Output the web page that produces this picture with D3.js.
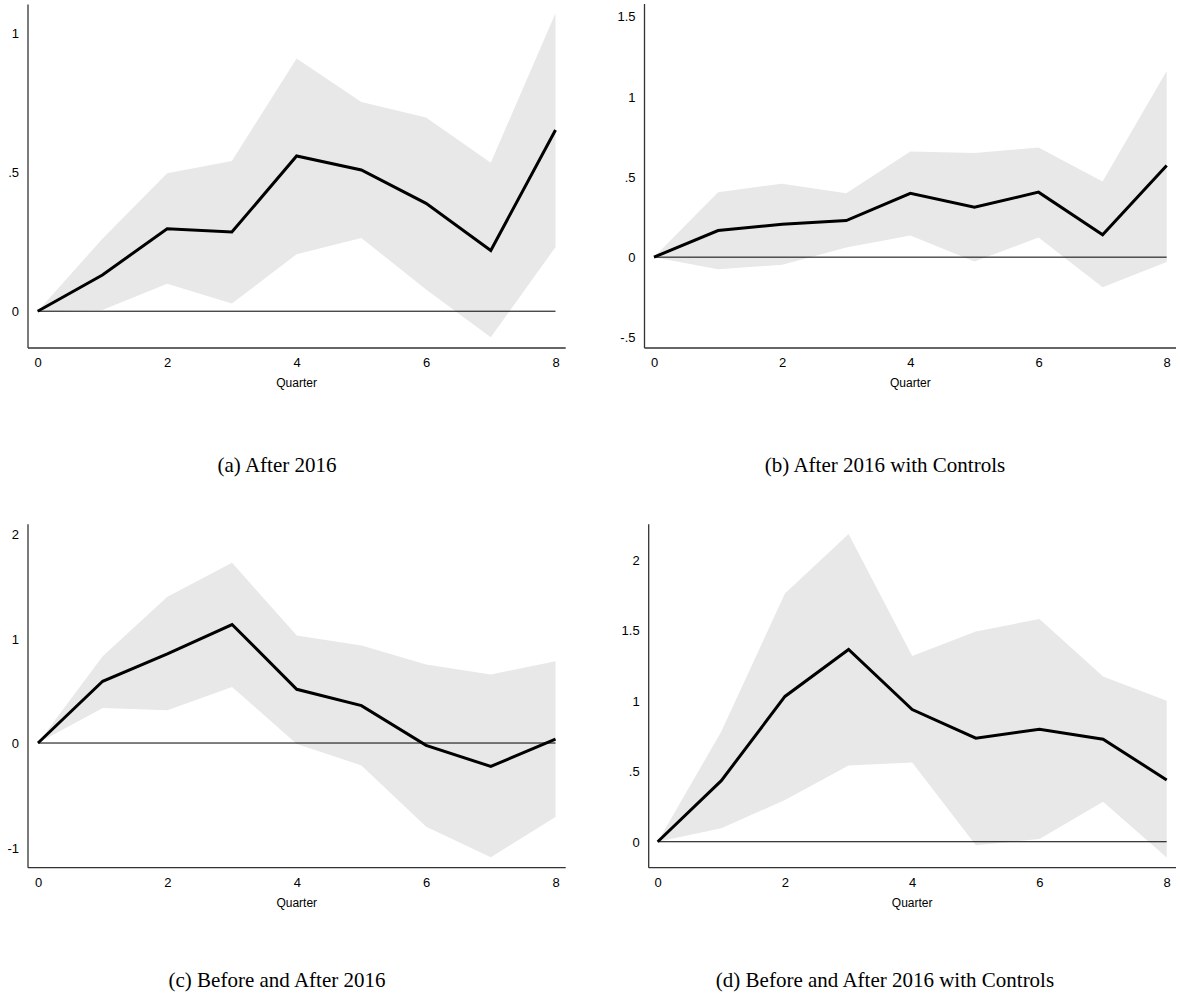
<!DOCTYPE html>
<html>
<head>
<meta charset="utf-8">
<script src="https://cdn.jsdelivr.net/npm/d3@7"></script>
<style>
  html, body { margin: 0; padding: 0; background: #fff; }
  svg { display: block; }
  .tick-label { font-family: "Liberation Sans", Arial, sans-serif; font-size: 13px; fill: #000; }
  .caption { font-family: "Liberation Serif", "DejaVu Serif", serif; font-size: 21px; fill: #000; }
</style>
</head>
<body>
<svg id="chart" width="1180" height="997"></svg>
<script>
// Impulse responses by quarter, with confidence bands
const quarters = [0, 1, 2, 3, 4, 5, 6, 7, 8];

const estA  = [0, 0.130, 0.296, 0.284, 0.557, 0.507, 0.387, 0.218, 0.650];
const upperA = [0, 0.260, 0.495, 0.539, 0.907, 0.751, 0.695, 0.533, 1.069];
const lowerA = [0, 0.004, 0.099, 0.028, 0.204, 0.263, 0.078, -0.093, 0.230];

const estB  = [0, 0.166, 0.205, 0.228, 0.398, 0.311, 0.405, 0.139, 0.571];
const upperB = [0, 0.405, 0.458, 0.398, 0.658, 0.649, 0.683, 0.471, 1.160];
const lowerB = [0, -0.075, -0.048, 0.060, 0.135, -0.027, 0.122, -0.187, -0.031];

const estC  = [0, 0.591, 0.853, 1.134, 0.514, 0.358, -0.022, -0.224, 0.038];
const upperC = [0, 0.830, 1.400, 1.725, 1.030, 0.933, 0.751, 0.655, 0.783];
const lowerC = [0, 0.335, 0.313, 0.537, -0.010, -0.214, -0.800, -1.093, -0.709];

const estD  = [0, 0.433, 1.030, 1.363, 0.937, 0.734, 0.798, 0.727, 0.438];
const upperD = [0, 0.781, 1.759, 2.182, 1.316, 1.491, 1.579, 1.172, 0.999];
const lowerD = [0, 0.095, 0.296, 0.540, 0.561, -0.024, 0.019, 0.284, -0.111];

const xTicks = [0, 2, 4, 6, 8];
const yTicksA = [0, 0.5, 1];
const yTicksB = [-0.5, 0, 0.5, 1, 1.5];
const yTicksC = [-1, 0, 1, 2];
const yTicksD = [0, 0.5, 1, 1.5, 2];

const captions = [
  "(a) After 2016",
  "(b) After 2016 with Controls",
  "(c) Before and After 2016",
  "(d) Before and After 2016 with Controls"
];
const xTitle = "Quarter";

// Panel geometry
const panels = [
  { est: estA, hi: upperA, lo: lowerA, yTicks: yTicksA, yDomain: [-0.132, 1.101],
    axisX: 28, x0: 37.7, x8: 555.5, xEnd: 565.7, top: 4.4, bottom: 348, capX: 277, capY: 472 },
  { est: estB, hi: upperB, lo: lowerB, yTicks: yTicksB, yDomain: [-0.566, 1.577],
    axisX: 644.5, x0: 654, x8: 1166.7, xEnd: 1176, top: 4, bottom: 348, capX: 885, capY: 472 },
  { est: estC, hi: upperC, lo: lowerC, yTicks: yTicksC, yDomain: [-1.193, 2.093],
    axisX: 28, x0: 38, x8: 555.5, xEnd: 565.7, top: 524.3, bottom: 867.7, capX: 277, capY: 987 },
  { est: estD, hi: upperD, lo: lowerD, yTicks: yTicksD, yDomain: [-0.184, 2.25],
    axisX: 648.7, x0: 657.7, x8: 1166.7, xEnd: 1176, top: 524.3, bottom: 867.7, capX: 885, capY: 987 }
];

const fmt = v => {
  if (v === 0) return "0";
  let s = String(v);
  return s.replace(/^0\./, ".").replace(/^-0\./, "-.");
};

const svg = d3.select("#chart");

panels.forEach((p, i) => {
  const x = d3.scaleLinear().domain([0, 8]).range([p.x0, p.x8]);
  const y = d3.scaleLinear().domain(p.yDomain).range([p.bottom, p.top]);
  const g = svg.append("g");

  const rows = quarters.map((q, k) => ({ q, est: p.est[k], hi: p.hi[k], lo: p.lo[k] }));

  // confidence band
  g.append("path")
    .datum(rows)
    .attr("fill", "#e8e8e8")
    .attr("d", d3.area().x(d => x(d.q)).y0(d => y(d.lo)).y1(d => y(d.hi)));

  // zero reference line
  g.append("line")
    .attr("x1", x(0)).attr("x2", x(8))
    .attr("y1", y(0)).attr("y2", y(0))
    .attr("stroke", "#000").attr("stroke-width", 1);

  // point estimates
  g.append("path")
    .datum(rows)
    .attr("fill", "none")
    .attr("stroke", "#000")
    .attr("stroke-width", 3)
    .attr("stroke-linejoin", "miter")
    .attr("d", d3.line().x(d => x(d.q)).y(d => y(d.est)));

  // axes
  const yAxis = d3.axisLeft(y).tickValues(p.yTicks).tickFormat(fmt).tickSize(0).tickPadding(0);
  const yg = g.append("g").attr("transform", `translate(${p.axisX},0)`).call(yAxis);
  yg.select(".domain").remove();
  yg.selectAll("text").attr("class", "tick-label").attr("x", -9).attr("dy", "0.35em");
  g.append("line")
    .attr("x1", p.axisX).attr("x2", p.axisX)
    .attr("y1", p.top).attr("y2", p.bottom)
    .attr("stroke", "#333").attr("stroke-width", 1.3);

  const xAxis = d3.axisBottom(x).tickValues(xTicks).tickFormat(d3.format("d")).tickSize(0).tickPadding(0);
  const xg = g.append("g").attr("transform", `translate(0,${p.bottom})`).call(xAxis);
  xg.select(".domain").remove();
  xg.selectAll("text").attr("class", "tick-label").attr("y", 10).attr("dy", "0.71em");
  g.append("line")
    .attr("x1", p.axisX).attr("x2", p.xEnd)
    .attr("y1", p.bottom).attr("y2", p.bottom)
    .attr("stroke", "#333").attr("stroke-width", 1.3);

  g.append("text")
    .attr("class", "tick-label")
    .attr("x", (p.x0 + p.x8) / 2)
    .attr("y", p.bottom + 39)
    .attr("text-anchor", "middle")
    .style("font-size", "12px")
    .text(xTitle);

  svg.append("text")
    .attr("class", "caption")
    .attr("x", p.capX)
    .attr("y", p.capY)
    .attr("text-anchor", "middle")
    .text(captions[i]);
});
</script>
</body>
</html>
